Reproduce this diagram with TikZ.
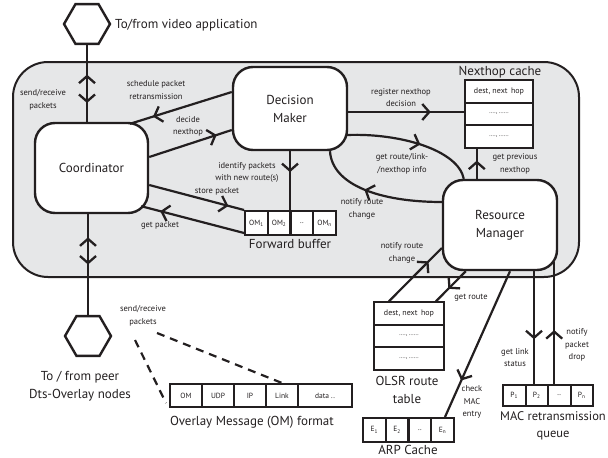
\documentclass[tikz,border=0pt]{standalone}
\usepackage{fontspec}
\setmainfont{PT Sans}
\usetikzlibrary{shapes.geometric,decorations.markings,calc}
\definecolor{ink}{HTML}{231F20}
\definecolor{framegrey}{HTML}{E6E7E8}
\tikzset{
  box/.style={draw=ink, line width=2.4pt, fill=white, rounded corners=20pt, align=center,
    font=\fontsize{13}{18}\selectfont, inner sep=0pt, text=ink},
  cell/.style={draw=ink, line width=2pt, fill=white, inner sep=0pt, text=ink,
    font=\fontsize{7.5}{9}\selectfont},
  lbl/.style={align=center, font=\fontsize{8.5}{12.5}\selectfont, inner sep=0pt, text=ink},
  big/.style={align=center, font=\fontsize{13}{18}\selectfont, inner sep=0pt, text=ink},
  hexa/.style={draw=ink, line width=2.4pt, fill=white, regular polygon, regular polygon sides=6,
    minimum size=46pt, inner sep=0pt},
  conn/.style={draw=ink, line width=2.2pt},
  dashconn/.style={draw=ink, line width=2.2pt, dash pattern=on 8pt off 6pt},
  fwd/.style={postaction={decorate,decoration={markings,
    mark=at position #1 with {\draw[ink,line width=2.3pt,solid,line cap=butt,miter limit=4]
      (-7pt,8pt) -- (0pt,0pt) -- (-7pt,-8pt);}}}},
  bwd/.style={postaction={decorate,decoration={markings,
    mark=at position #1 with {\draw[ink,line width=2.3pt,solid,line cap=butt,miter limit=4]
      (7pt,8pt) -- (0pt,0pt) -- (7pt,-8pt);}}}}
}
\begin{document}
\begin{tikzpicture}[x=1pt,y=-1pt]
\useasboundingbox (0,0) rectangle (608,458);
% frame
\node[draw=ink, fill=framegrey, line width=2pt, rounded corners=35pt, minimum width=566pt,
  minimum height=215pt, inner sep=0pt] (frame) at (296,169.5) {};
% hexagons
\node[hexa] (hexTop) at (87,24) {};
\node[big, anchor=west] (vidlbl) at (115,25) {To/from video application};
\node[hexa] (hexBot) at (88,336) {};
\node[big] (peerlbl) at (80,386) {To / from peer\\Dts-Overlay nodes};
% main boxes
\node[box, minimum width=113pt, minimum height=90pt] (co) at (91.5,168) {Coordinator};
\node[box, minimum width=114pt, minimum height=83pt] (dm) at (290,108.5) {Decision\\Maker};
\node[box, minimum width=114pt, minimum height=90pt] (rm) at (500,225) {Resource\\Manager};
% nexthop cache
\node[cell, minimum width=68pt, minimum height=22.7pt, font=\fontsize{8}{9}\selectfont] (nh1) at (499,91.3) {dest, next\ \,hop};
\node[cell, minimum width=68pt, minimum height=22.7pt, font=\fontsize{6}{7}\selectfont] (nh2) at (499,114) {...., ......};
\node[cell, minimum width=68pt, minimum height=22.7pt, font=\fontsize{6}{7}\selectfont] (nh3) at (499,136.7) {...., ......};
\node[big] (nhlbl) at (500,72) {Nexthop cache};
% forward buffer
\node[cell, minimum width=22.75pt, minimum height=24pt] (fb1) at (256.4,223) {OM\textsubscript{1}};
\node[cell, minimum width=22.75pt, minimum height=24pt] (fb2) at (279.1,223) {OM\textsubscript{2}};
\node[cell, minimum width=22.75pt, minimum height=24pt] (fb3) at (301.9,223) {..};
\node[cell, minimum width=22.75pt, minimum height=24pt] (fb4) at (324.6,223) {OM\textsubscript{n}};
\node[big] (fblbl) at (290,244) {Forward buffer};
% OLSR
\node[cell, minimum width=70pt, minimum height=22.5pt, font=\fontsize{8}{9}\selectfont] (ol1) at (409,313.5) {dest, next\ \,hop};
\node[cell, minimum width=70pt, minimum height=22.5pt, font=\fontsize{6}{7}\selectfont] (ol2) at (409,336) {...., ......};
\node[cell, minimum width=70pt, minimum height=22.5pt, font=\fontsize{6}{7}\selectfont] (ol3) at (409,358.5) {...., ......};
\node[big] (ollbl) at (407,390) {OLSR route\\table};
% ARP
\node[cell, minimum width=22.75pt, minimum height=24pt] (arp1) at (374.4,430) {E\textsubscript{1}};
\node[cell, minimum width=22.75pt, minimum height=24pt] (arp2) at (397.1,430) {E\textsubscript{2}};
\node[cell, minimum width=22.75pt, minimum height=24pt] (arp3) at (419.9,430) {..};
\node[cell, minimum width=22.75pt, minimum height=24pt] (arp4) at (442.6,430) {E\textsubscript{n}};
\node[big] (arplbl) at (408,450) {ARP Cache};
% MAC queue
\node[cell, minimum width=22.5pt, minimum height=21pt] (mq1) at (514.25,395.5) {P\textsubscript{1}};
\node[cell, minimum width=22.5pt, minimum height=21pt] (mq2) at (536.75,395.5) {P\textsubscript{2}};
\node[cell, minimum width=22.5pt, minimum height=21pt] (mq3) at (559.25,395.5) {..};
\node[cell, minimum width=22.5pt, minimum height=21pt] (mq4) at (581.75,395.5) {P\textsubscript{n}};
\node[big, font=\fontsize{12.5}{17}\selectfont] (mqlbl) at (553,426) {MAC retransmission\\queue};
% OM format
\node[cell, minimum width=32pt, minimum height=23pt] (om1) at (186,395.5) {OM};
\node[cell, minimum width=32pt, minimum height=23pt] (om2) at (218,395.5) {UDP};
\node[cell, minimum width=32pt, minimum height=23pt] (om3) at (250,395.5) {IP};
\node[cell, minimum width=32pt, minimum height=23pt] (om4) at (282,395.5) {Link};
\node[cell, minimum width=54pt, minimum height=23pt] (om5) at (325,395.5) {data ..};
\node[big] (omlbl) at (252,422) {Overlay Message (OM) format};
% helper coordinates
\coordinate (regS) at ($(dm.east)+(0,3.5)$);
\coordinate (prevS) at ($(rm.north west)+(35,0)$);
\coordinate (linkS) at ($(rm.south)+(34,0)$);
\coordinate (dropTop) at ($(rm.south east)+(-4,-9)$);
% connectors
\draw[conn, bwd=0.405, fwd=0.735] (hexTop.south) -- (hexTop.south |- co.north);
\draw[conn, bwd=0.245, fwd=0.485] (hexBot.north |- co.south) -- (hexBot.north);
\draw[conn, fwd=0.76] ($(dm.west)+(0,-16.5)$) -- ($(co.north)+(38.5,2)$);
\draw[conn, fwd=0.8] ($(co.east)+(0,-11)$) -- ($(dm.west)+(0,21.5)$);
\draw[conn, fwd=0.82] ($(co.east)+(0,17)$) -- (fb1.north west);
\draw[conn, fwd=0.8] ($(fb1.south west)+(0,-3)$) -- ($(co.south east)+(-8,-8)$);
\draw[conn, fwd=0.33] (dm.south) -- (dm.south |- fb2.north);
\draw[conn, fwd=0.7] (regS) -- (regS -| nh2.west);
\draw[conn, fwd=0.55] ($(dm.east)+(-1,26.5)$) .. controls (400,133) and (458,150) .. ($(rm.north west)+(22,0)$);
\draw[conn, fwd=0.58] ($(rm.west)+(0,-23)$) .. controls (380,202) and (332,185) .. ($(dm.south)+(40,0)$);
\draw[conn, fwd=0.56] (prevS) -- (prevS |- nh3.south);
\draw[conn, fwd=0.73] ($(ol1.north west)+(16,0)$) -- ($(rm.west)+(0,23)$);
\draw[conn, fwd=0.55] ($(rm.south west)+(24,0)$) -- ($(ol1.north east)+(-9,0)$);
\draw[conn, fwd=0.74] ($(rm.south)+(10,0)$) -- ($(arp4.north)+(2.4,0)$);
\draw[conn, fwd=0.59] (linkS) -- (linkS |- mq2.north);
\draw[conn, fwd=0.43] (dropTop |- mq3.north) -- (dropTop);
% dashed
\coordinate (d1) at (135,340);
\coordinate (d2) at (157,333);
\draw[dashconn] (d1) -- ($(om1.south west)+(-3,-5)$);
\draw[dashconn] (d2) -- (om4.north);
% labels
\node[lbl] (l1) at (43,100) {send/receive\\packets};
\node[lbl] (l2) at (156,90) {schedule packet\\retransmission};
\node[lbl] (l3) at (188,126.5) {decide\\nexthop};
\node[lbl] (l4) at (217,191) {store packet};
\node[lbl] (l5) at (160,225) {get packet};
\node[lbl] (l6) at (247,172.5) {identify packets\\with new route(s)};
\node[lbl] (l7) at (401,97.5) {register nexthop\\decision};
\node[lbl] (l8) at (402,164) {get route/link-\\/nexthop info};
\node[lbl] (l9) at (362,209) {notify route\\change};
\node[lbl] (l10) at (515,164) {get previous\\nexthop};
\node[lbl] (l11) at (402,253) {notify route\\change};
\node[lbl] (l12) at (471,298) {get route};
\node[lbl] (l13) at (472,402) {check\\MAC\\entry};
\node[lbl] (l14) at (515,357.5) {get link\\status};
\node[lbl] (l15) at (577,345) {notify\\packet\\drop};
\node[lbl] (l16) at (143,316) {send/receive\\packets};
\end{tikzpicture}
\end{document}
